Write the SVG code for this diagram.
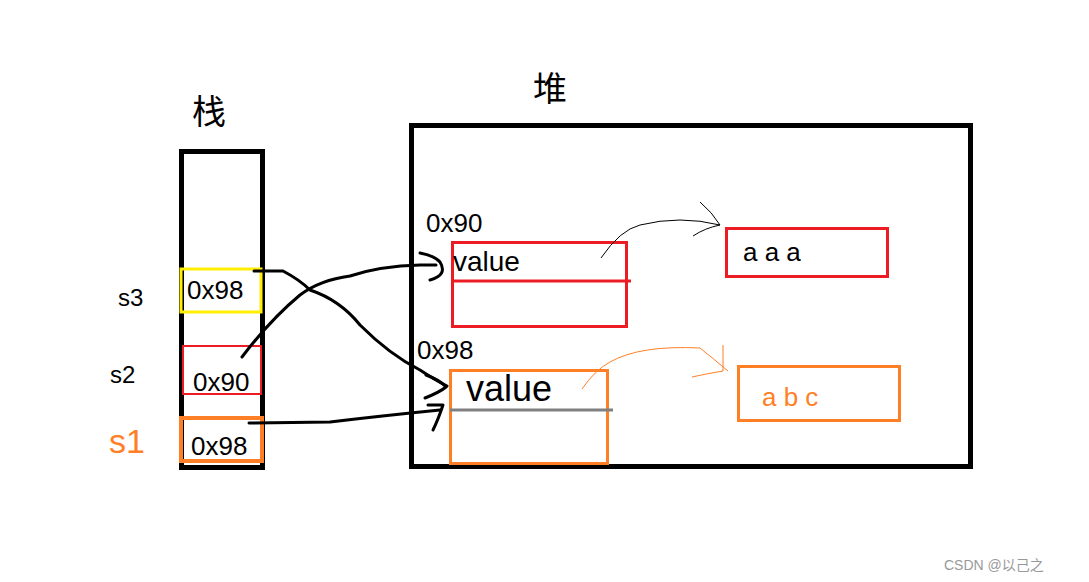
<svg xmlns="http://www.w3.org/2000/svg" width="1089" height="582" viewBox="0 0 1089 582">
<style>
text{font-family:"Liberation Sans","Noto Sans CJK SC",sans-serif;}
.k{fill:#000}.o{fill:#ff7f27}
.ink{fill:none;stroke:#000;stroke-width:3;stroke-linecap:round;stroke-linejoin:round}
.thin{fill:none;stroke:#000;stroke-width:1}
.othin{fill:none;stroke:#ff7f27;stroke-width:1}
</style>
<rect width="1089" height="582" fill="#fff"/>
<g id="stack">
<text x="192" y="124" font-size="34" class="k">栈</text>
<rect x="181.5" y="151.5" width="81" height="316" fill="none" stroke="#000" stroke-width="5"/>
</g>
<g id="heap">
<text x="533" y="101" font-size="34" class="k">堆</text>
<rect x="411.5" y="125.5" width="559" height="341" fill="none" stroke="#000" stroke-width="5"/>
</g>
<g id="s3">
<text x="118" y="306" font-size="24" class="k">s3</text>
<rect x="181" y="269" width="80" height="43" fill="none" stroke="#ffee00" stroke-width="3"/>
<text x="187" y="299" font-size="26" class="k">0x98</text>
</g>
<g id="s2">
<text x="110" y="383" font-size="24" class="k">s2</text>
<rect x="183" y="346" width="78" height="48" fill="none" stroke="#ed1c24" stroke-width="2"/>
<text x="193" y="391" font-size="26" class="k">0x90</text>
</g>
<g id="s1">
<text x="109" y="453" font-size="34" class="o">s1</text>
<rect x="181" y="418" width="81" height="43" fill="none" stroke="#ff7f27" stroke-width="4"/>
<text x="191" y="455" font-size="26" class="k">0x98</text>
</g>
<g id="obj90">
<text x="426" y="232" font-size="26" class="k">0x90</text>
<rect x="452.5" y="242.5" width="174" height="84" fill="none" stroke="#ed1c24" stroke-width="3"/>
<line x1="452" y1="281" x2="631" y2="281" stroke="#ed1c24" stroke-width="3"/>
<text x="453" y="271" font-size="28" class="k">value</text>
</g>
<g id="obj98">
<text x="417" y="359" font-size="26" class="k">0x98</text>
<rect x="450.5" y="370.5" width="157" height="93" fill="none" stroke="#ff7f27" stroke-width="3"/>
<line x1="450" y1="410" x2="613" y2="410" stroke="#808080" stroke-width="3"/>
<text x="466" y="401" font-size="36" class="k">value</text>
</g>
<g id="aaa">
<rect x="726.5" y="228.5" width="161" height="48" fill="none" stroke="#ed1c24" stroke-width="3"/>
<text x="743" y="261" font-size="26" class="k">a   a   a</text>
</g>
<g id="abc">
<rect x="738.5" y="366.5" width="161" height="54" fill="none" stroke="#ff7f27" stroke-width="3"/>
<text x="762" y="406" font-size="26" class="o">a    b    c</text>
</g>
<g id="connectors">
<path class="ink" d="M254 271 L283 271 Q300 280 310 290 Q340 300 360 325 Q390 355 420 370 Q435 380 447 386"/>
<path class="ink" d="M426 375 Q440 380 446 387 Q440 392 425 398"/>
<path class="ink" d="M242 357 Q270 320 300 295 Q320 280 350 276 Q380 266 420 265 L436 265"/>
<path class="ink" d="M420 253 Q435 256 440 262 Q448 275 430 280"/>
<path class="ink" d="M249 423 L330 422 Q380 416 440 410"/>
<path class="ink" d="M428 405 L443 405 Q438 420 433 430"/>
<path class="thin" d="M601 258 Q620 230 640 225 Q680 215 720 225 M700 202 Q712 212 720 225 Q705 228 693 236"/>
<path class="othin" d="M582 389 Q595 370 610 362 Q640 345 700 348 Q715 360 728 371 M723 345 L723 371 Q705 374 692 377"/>
</g>
<text x="944" y="570" font-size="14" fill="#999">CSDN @以己之</text>
</svg>
